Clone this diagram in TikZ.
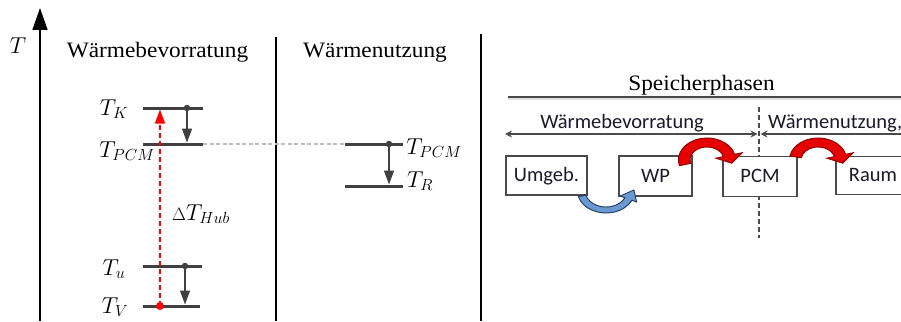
\RequirePackage{fix-cm}
\documentclass[tikz,border=0pt]{standalone}
\usepackage{fontspec}
\setmainfont{Liberation Serif}[FakeStretch=1.06]
\newfontfamily\calfont{Carlito}
\usetikzlibrary{arrows.meta,calc}
\definecolor{lvl}{HTML}{404040}
\definecolor{ink}{HTML}{1A1A2A}
\definecolor{dgray}{HTML}{4A4A4A}
\definecolor{lgray}{HTML}{BDBDBD}
\definecolor{ared}{HTML}{E60000}
\definecolor{ared2}{HTML}{8A0000}
\definecolor{ablue}{HTML}{6A98D0}
\definecolor{ablue2}{HTML}{1F3B63}
\newcommand{\curvedarrow}[9]{%
  \filldraw[#1] ($(#2)+(#5:#4)$) arc[start angle=#5, end angle=#6, radius=#4]
    -- ($(#2)+(#6:{#4+#9})$)
    -- ($(#2)+(#6:{(#3+#4)/2})+({#6#7}:#8)$)
    -- ($(#2)+(#6:{#3-#9})$)
    -- ($(#2)+(#6:#3)$)
    arc[start angle=#6, end angle=#5, radius=#3] -- cycle;}
\tikzset{
  level/.style={line width=3pt, draw=lvl},
  dotn/.style={circle, fill=lvl, inner sep=0pt, minimum size=6.5pt},
  reddot/.style={circle, fill=red, inner sep=0pt, minimum size=8pt},
  fall/.style={line width=1.3pt, draw=lvl, -{Triangle[length=14pt,width=10pt]}, shorten >=1.5pt},
  rise/.style={line width=1.3pt, draw=red, dash pattern=on 5pt off 3pt, -{Triangle[length=14pt,width=10pt]}},
  mathlbl/.style={inner sep=0pt, font=\fontsize{23}{27}\selectfont},
  serif/.style={inner sep=0pt, anchor=base, font=\fontsize{22}{26}\selectfont},
  sans/.style={inner sep=0pt, anchor=base, text=ink, font=\calfont\fontsize{20.5}{24}\selectfont},
  sbox/.style={draw=dgray, line width=1.1pt, fill=white, text=ink, font=\calfont\fontsize{20.5}{24}\selectfont, text height=12pt, text depth=0pt, inner sep=0pt},
  dim/.style={draw=dgray, line width=1.1pt},
  redarrow/.style={fill=ared, draw=ared2, line width=0.9pt},
  bluearrow/.style={fill=ablue, draw=ablue2, line width=0.9pt},
}
\begin{document}
\begin{tikzpicture}[x=1pt,y=-1pt]
\useasboundingbox (0,0) rectangle (901,321);
\fill[white] (0,0) rectangle (901,321);
\clip (0,0) rectangle (901,321);

% axis
\coordinate (ax0) at (40,321);
\coordinate (ax1) at (40,8);
\draw[line width=1.6pt, -{Triangle[length=22pt,width=15pt]}] (ax0) -- (ax1);
\node[mathlbl] (Tax) at (18,46) {$T$};

% separators
\coordinate (s1a) at (276,37); \coordinate (s1b) at (276,321);
\coordinate (s2a) at (481,34); \coordinate (s2b) at (481,321);
\draw[line width=1.6pt] (s1a) -- (s1b);
\draw[line width=1.6pt] (s2a) -- (s2b);

% headings
\node[serif] (h1) at (157.5,58) {Wärmebevorratung};
\node[serif] (h2) at (375,58) {Wärmenutzung};

% levels left
\coordinate (K1) at (143,108); \coordinate (K2) at (203,108);
\coordinate (P1) at (143,144); \coordinate (P2) at (203,144);
\coordinate (U1) at (143,266); \coordinate (U2) at (202,266);
\coordinate (V1) at (143,306); \coordinate (V2) at (200,306);
\draw[level] (K1) -- (K2);
\draw[level] (P1) -- (P2);
\draw[level] (U1) -- (U2);
\draw[level] (V1) -- (V2);

% dashed connection
\coordinate (Q1) at (345,144); \coordinate (Q2) at (403,144);
\coordinate (R1) at (345,186); \coordinate (R2) at (403,186);
\draw[lgray, line width=1.4pt, dash pattern=on 4pt off 2.5pt] (P2) -- (Q1);
\draw[level] (Q1) -- (Q2);
\draw[level] (R1) -- (R2);

% red rise arrow
\node[reddot] (rV) at (160,306) {};
\coordinate (rK) at (160,109.5);
\draw[rise] (rV.center) -- (rK);

% down arrows
\node[dotn] (dK) at (187,108) {};
\node[dotn] (dU) at (185,266) {};
\node[dotn] (dQ) at (389,144) {};
\draw[fall] (dK.center) -- (dK |- P1);
\draw[fall] (dU.center) -- (dU |- V1);
\draw[fall] (dQ.center) -- (dQ |- R1);

% labels
\node[mathlbl] (lK) at (114,109) {$T_K$};
\node[mathlbl] (lP) at (127,151) {$T_{PCM}$};
\node[mathlbl] (lU) at (114,269) {$T_u$};
\node[mathlbl] (lV) at (115,307) {$T_V$};
\node[mathlbl] (lH) at (201,214) {$\scalebox{0.78}{$\Delta$}T_{Hub}$};
\node[mathlbl] (lP2) at (434,148) {$T_{PCM}$};
\node[mathlbl] (lR) at (420,181) {$T_R$};

% ---- right part ----
\node[serif] (sp) at (701.5,90) {Speicherphasen};
\coordinate (hl1) at (508,97); \coordinate (hl2) at (901,97);
\draw[lgray!45, line width=1.6pt] ($(hl1)+(0,1.8)$) -- ($(hl2)+(0,1.8)$);
\draw[dgray, line width=1.5pt] (hl1) -- (hl2);

\coordinate (vd1) at (759,107); \coordinate (vd2) at (759,238);
\draw[dgray, line width=1.1pt, dash pattern=on 5pt off 3pt] (vd1) -- (vd2);

\node[sans] (wb) at (622,128) {Wärmebevorratung};
\node[sans, anchor=base west] (wn) at (768,128) {Wärmenutzung,};

\coordinate (d1) at (505,134); \coordinate (d2) at (757.5,134);
\coordinate (d3) at (760.5,134); \coordinate (d4) at (920,134);
\draw[dim, {Stealth[length=7pt,width=7pt]}-{Stealth[length=7pt,width=7pt]}] (d1) -- (d2);
\draw[dim, {Stealth[length=7pt,width=7pt]}-] (d3) -- (d4);

\node[sbox, minimum width=81pt, minimum height=39pt] (umg) at (546.5,175.5) {Umgeb.};
\node[sbox, minimum width=73pt, minimum height=40pt] (wp) at (655.5,176) {WP};
\node[sbox, minimum width=74pt, minimum height=40pt] (pcm) at (760,176.5) {PCM};
\node[sbox, minimum width=74pt, minimum height=38pt] (raum) at (873,175.5) {Raum};

% curved block arrows
\begin{scope}[shift={(606,191)}, xscale=1.3]
  \curvedarrow{bluearrow}{0,0}{16}{22}{165}{25}{-90}{10}{4}
\end{scope}
\begin{scope}[shift={(707,160)}, xscale=1.3]
  \curvedarrow{redarrow}{0,0}{13}{22}{165}{345}{+90}{8}{6}
\end{scope}
\begin{scope}[shift={(818,160)}, xscale=1.3]
  \curvedarrow{redarrow}{0,0}{13}{22}{190}{345}{+90}{8}{6}
\end{scope}
\end{tikzpicture}
\end{document}
